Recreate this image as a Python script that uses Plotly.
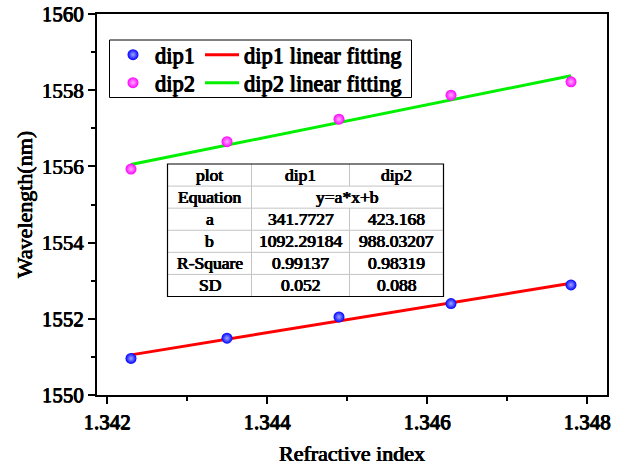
import plotly.graph_objects as go

# Measured dip wavelengths versus the refractive index of the surrounding liquid
refractive_index = [1.3423, 1.3435, 1.3449, 1.3463, 1.3478]
dip1_wavelength = [1550.96, 1551.49, 1552.05, 1552.40, 1552.89]
dip2_wavelength = [1555.93, 1556.65, 1557.24, 1557.87, 1558.22]

# Linear fit parameters (y = a*x + b)
dip1_a, dip1_b = 341.7727, 1092.29184
dip2_a, dip2_b = 423.168, 988.03207

# Fit summary table
table_header = ["plot", "dip1", "dip2"]
table_equation = "y=a*x+b"
table_row_labels = ["a", "b", "R-Square", "SD"]
dip1_stats = ["341.7727", "1092.29184", "0.99137", "0.052"]
dip2_stats = ["423.168", "988.03207", "0.98319", "0.088"]

FONT = "Liberation Serif"
# heavier strokes for the serif text
HEAVY = "0.5px 0 0 black, -0.4px 0 0 black, 0 0.35px 0 black"
W, H = 637, 466
ML, MR, MT, MB = 97, 30, 14, 71
PW, PH = W - ML - MR, H - MT - MB


def px(xp):
    return (xp - ML) / PW


def py(yp):
    return (H - MB - yp) / PH


def heavy_font(size):
    return dict(family=FONT, size=size, color="black", shadow=HEAVY)


x_fit = [min(refractive_index), max(refractive_index)]
dip1_fit = [dip1_a * v + dip1_b for v in x_fit]
dip2_fit = [dip2_a * v + dip2_b for v in x_fit]

fig = go.Figure()

fig.add_trace(go.Scatter(
    x=x_fit, y=dip1_fit, mode="lines", name="dip1 linear fitting",
    line=dict(color="#ff0000", width=3), legend="legend", legendrank=2))
fig.add_trace(go.Scatter(
    x=x_fit, y=dip2_fit, mode="lines", name="dip2 linear fitting",
    line=dict(color="#00f000", width=3), legend="legend2", legendrank=2))
fig.add_trace(go.Scatter(
    x=refractive_index, y=dip1_wavelength, mode="markers", name="dip1",
    marker=dict(size=11, color="#0000ff", line=dict(width=0),
                gradient=dict(type="radial", color="#9fa8ff")),
    legend="legend", legendrank=1))
fig.add_trace(go.Scatter(
    x=refractive_index, y=dip2_wavelength, mode="markers", name="dip2",
    marker=dict(size=11, color="#ff00ff", line=dict(width=0),
                gradient=dict(type="radial", color="#ffb0ff")),
    legend="legend2", legendrank=1))

shapes = []
annotations = []

# legend frame
shapes.append(dict(type="rect", xref="paper", yref="paper",
                   x0=px(109.5), x1=px(411.5), y0=py(97.5), y1=py(40),
                   line=dict(color="black", width=1), fillcolor="white",
                   layer="below"))

# fit table
tx = [167.5, 251.5, 349.5, 443.5]
ty_top, ty_bot = 164.0, 296.5
n_rows = 6
rh = (ty_bot - ty_top) / n_rows
ty = [ty_top + i * rh for i in range(n_rows + 1)]
grid = "#c4c4c4"
shapes.append(dict(type="rect", xref="paper", yref="paper",
                   x0=px(tx[0]), x1=px(tx[3]), y0=py(ty_bot), y1=py(ty_top),
                   line=dict(width=0), fillcolor="white", layer="above"))
for i in range(1, n_rows):
    shapes.append(dict(type="line", xref="paper", yref="paper",
                       x0=px(tx[0]), x1=px(tx[3]), y0=py(ty[i]), y1=py(ty[i]),
                       line=dict(color=grid, width=1)))
for j in (1, 2):
    for i in range(n_rows):
        if i == 1 and j == 2:
            continue  # merged equation cell
        shapes.append(dict(type="line", xref="paper", yref="paper",
                           x0=px(tx[j]), x1=px(tx[j]), y0=py(ty[i]), y1=py(ty[i + 1]),
                           line=dict(color=grid, width=1)))
shapes.append(dict(type="rect", xref="paper", yref="paper",
                   x0=px(tx[0]), x1=px(tx[3]), y0=py(ty_bot), y1=py(ty_top),
                   line=dict(color="black", width=1.2)))

cell_font = heavy_font(17.5)


def cell(text, xc, row):
    annotations.append(dict(text=text, xref="paper", yref="paper",
                            x=px(xc), y=py(ty[row] + rh / 2),
                            xanchor="center", yanchor="middle",
                            showarrow=False, font=cell_font))


cx = [(tx[k] + tx[k + 1]) / 2 for k in range(3)]
for k, t in enumerate(table_header):
    cell(t, cx[k], 0)
cell("Equation", cx[0], 1)
cell(table_equation, (tx[1] + tx[3]) / 2, 1)
for r, lab in enumerate(table_row_labels):
    cell(lab, cx[0], r + 2)
    cell(dip1_stats[r], cx[1], r + 2)
    cell(dip2_stats[r], cx[2], r + 2)

tick_font = heavy_font(21)
title_font = heavy_font(22)
legend_common = dict(orientation="h", xanchor="left", yanchor="middle",
                     bgcolor="rgba(0,0,0,0)", borderwidth=0,
                     font=heavy_font(22.5),
                     traceorder="normal", itemwidth=34)

fig.update_layout(
    width=W, height=H,
    margin=dict(l=ML, r=MR, t=MT, b=MB, pad=0, autoexpand=False),
    paper_bgcolor="white", plot_bgcolor="white",
    font=dict(family=FONT, size=21, color="black"),
    showlegend=True,
    legend=dict(x=px(111), y=py(55), **legend_common),
    legend2=dict(x=px(111), y=py(83), **legend_common),
    shapes=shapes,
    annotations=annotations,
    xaxis=dict(
        range=[1.341875, 1.34825], tick0=1.342, dtick=0.002, tickformat=".3f",
        showgrid=False, zeroline=False, automargin=False,
        showline=True, linecolor="black", linewidth=2, mirror=True,
        ticks="outside", ticklen=7, tickwidth=2, tickcolor="black",
        minor=dict(dtick=0.001, ticks="outside", ticklen=4, tickwidth=2,
                   tickcolor="black", showgrid=False),
        tickfont=tick_font,
        title=dict(text="Refractive index", font=title_font, standoff=16),
    ),
    yaxis=dict(
        range=[1550, 1560], tick0=1550, dtick=2,
        showgrid=False, zeroline=False, automargin=False,
        showline=True, linecolor="black", linewidth=2, mirror=True,
        ticks="outside", ticklen=7, tickwidth=2, tickcolor="black",
        minor=dict(dtick=1, ticks="outside", ticklen=4, tickwidth=2,
                   tickcolor="black", showgrid=False),
        tickfont=tick_font,
        title=dict(text="Wavelength(nm)", font=title_font, standoff=3),
    ),
)

fig.write_html("out.html")
